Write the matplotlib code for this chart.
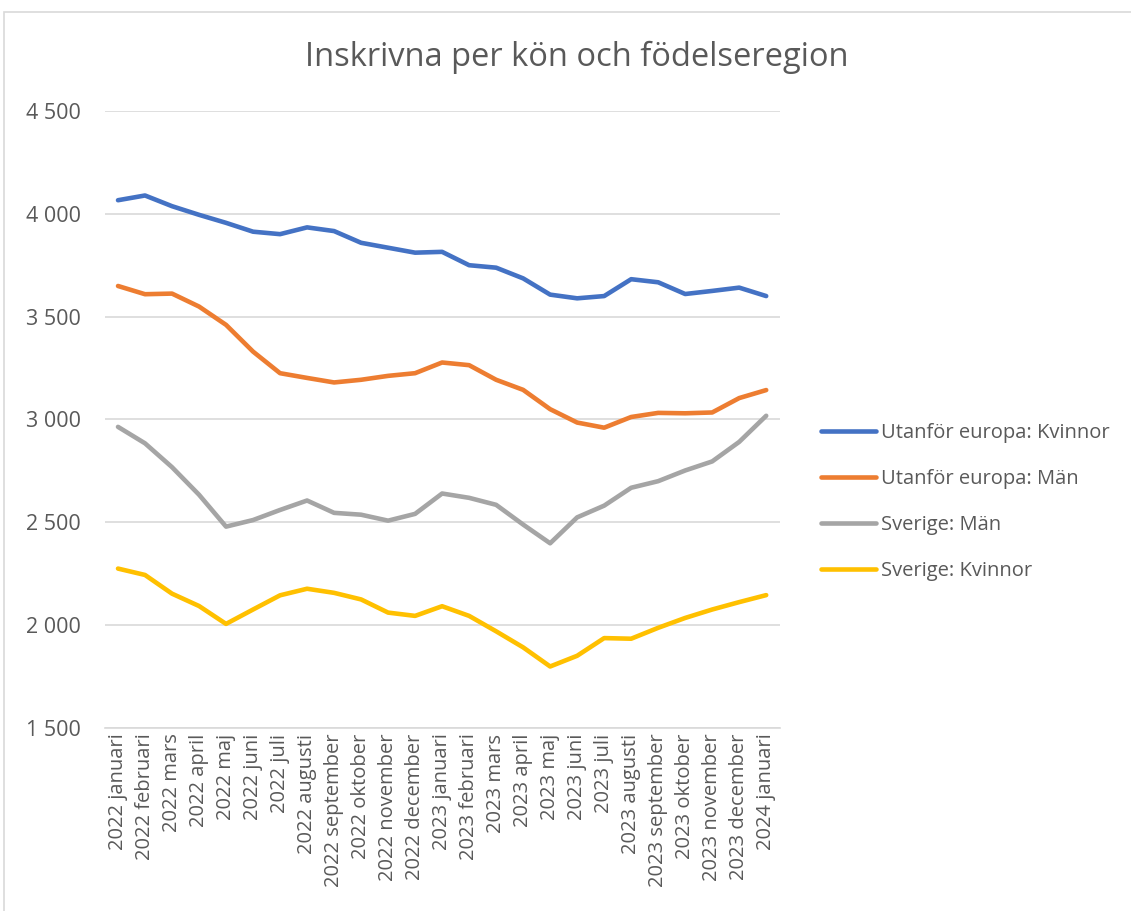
import matplotlib
matplotlib.use('Agg')
import matplotlib.pyplot as plt
from matplotlib.patches import Rectangle
from matplotlib.ticker import FuncFormatter

# Months shown on the category axis
months = ['2022 januari', '2022 februari', '2022 mars', '2022 april', '2022 maj',
          '2022 juni', '2022 juli', '2022 augusti', '2022 september', '2022 oktober',
          '2022 november', '2022 december', '2023 januari', '2023 februari',
          '2023 mars', '2023 april', '2023 maj', '2023 juni', '2023 juli',
          '2023 augusti', '2023 september', '2023 oktober', '2023 november',
          '2023 december', '2024 januari']

# Values
utanfor_kvinnor = [4066, 4089, 4037, 3995, 3956, 3913, 3901, 3934, 3916, 3859,
                   3835, 3811, 3815, 3750, 3738, 3686, 3607, 3589, 3600, 3682,
                   3667, 3610, 3625, 3641, 3600]
utanfor_man = [3649, 3609, 3612, 3549, 3460, 3330, 3225, 3202, 3180, 3193,
               3212, 3225, 3277, 3264, 3193, 3144, 3050, 2985, 2960, 3012,
               3032, 3030, 3034, 3104, 3143]
sverige_man = [2964, 2884, 2768, 2634, 2479, 2511, 2560, 2606, 2546, 2537,
               2508, 2541, 2640, 2619, 2585, 2489, 2398, 2524, 2581, 2668,
               2700, 2752, 2796, 2891, 3018]
sverige_kvinnor = [2275, 2244, 2153, 2093, 2006, 2076, 2145, 2177, 2157, 2125,
                   2061, 2045, 2092, 2045, 1970, 1892, 1799, 1851, 1937, 1934,
                   1987, 2035, 2076, 2112, 2146]

series = [
    ('Utanför europa: Kvinnor', utanfor_kvinnor, '#4472C4'),
    ('Utanför europa: Män', utanfor_man, '#ED7D31'),
    ('Sverige: Män', sverige_man, '#A5A5A5'),
    ('Sverige: Kvinnor', sverige_kvinnor, '#FFC000'),
]

plt.rcParams['font.family'] = ['Open Sans', 'DejaVu Sans']
txt = '#595959'

fig = plt.figure(figsize=(11.31, 9.11), dpi=100)
ax = fig.add_axes([0.0924, 0.2009, 0.597, 0.6773])

x = list(range(len(months)))
for name, vals, col in series:
    ax.plot(x, vals, color=col, linewidth=3.3, label=name, solid_capstyle='round')

ax.set_xlim(-0.5, len(months) - 0.5)
ax.set_ylim(1500, 4500)
ax.set_yticks([1500, 2000, 2500, 3000, 3500, 4000, 4500])
ax.yaxis.set_major_formatter(FuncFormatter(lambda v, p: f'{int(v):,}'.replace(',', ' ')))
ax.set_xticks(x)
ax.set_xticklabels(months, rotation=90, fontsize=14.5, color=txt)
ax.tick_params(axis='y', labelsize=15.5, colors=txt, length=0, pad=17)
ax.tick_params(axis='x', length=0, pad=4)

ax.grid(axis='y', color='#D9D9D9', linewidth=1.2)
ax.set_axisbelow(True)
for s in ['top', 'right', 'left']:
    ax.spines[s].set_visible(False)
ax.spines['bottom'].set_color('#D9D9D9')
ax.spines['bottom'].set_linewidth(1.2)

fig.text(0.51, 0.937, 'Inskrivna per kön och födelseregion', ha='center', va='center',
         fontsize=23.5, color=txt)

handles, labels = ax.get_legend_handles_labels()
leg = fig.legend(handles, labels, loc='center left', bbox_to_anchor=(0.71, 0.449),
                 frameon=False, fontsize=14.5, handlelength=2.7, handletextpad=0.25,
                 labelspacing=1.28)
for t in leg.get_texts():
    t.set_color(txt)

# chart border
fig.patches.append(Rectangle((4 / 1131, -0.01), 1.0, 1 - 12 / 911 + 0.01,
                             transform=fig.transFigure, fill=False,
                             edgecolor='#D9D9D9', linewidth=1.2))

fig.savefig('out.png', dpi=100)
